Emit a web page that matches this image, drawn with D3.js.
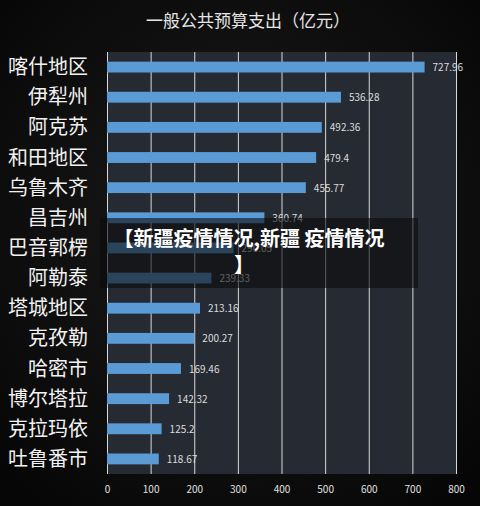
<!DOCTYPE html>
<html><head><meta charset="utf-8">
<script src="https://cdn.jsdelivr.net/npm/d3@7"></script>
<style>body{margin:0;background:#0b0b0b;}svg{display:block;}</style>
</head><body>
<svg id="chart"></svg>
<script>
const regions = ["喀什地区","伊犁州","阿克苏","和田地区","乌鲁木齐","昌吉州","巴音郭楞","阿勒泰","塔城地区","克孜勒","哈密市","博尔塔拉","克拉玛依","吐鲁番市"];
const spending = [727.96,536.28,492.36,479.4,455.77,360.74,290.05,239.33,213.16,200.27,169.46,142.32,125.2,118.67];
const xTicks = [0,100,200,300,400,500,600,700,800];

const width = 480, height = 506;
const margin = {top: 52, right: 24, bottom: 32, left: 107};
const svg = d3.select('#chart').attr('width', width).attr('height', height);
const font = "'Noto Sans CJK SC', 'Noto Sans', sans-serif";

const defs = svg.append('defs');
const bg = defs.append('radialGradient').attr('id', 'bg').attr('cx', '50%').attr('cy', '45%').attr('r', '70%');
bg.append('stop').attr('offset', '0%').attr('stop-color', '#1c1c1c');
bg.append('stop').attr('offset', '100%').attr('stop-color', '#060606');
svg.append('rect').attr('width', width).attr('height', height).attr('fill', 'url(#bg)');

const x = d3.scaleLinear().domain([0, 800]).range([margin.left, width - margin.right]);
const y = d3.scaleBand().domain(regions).range([margin.top, height - margin.bottom]).paddingInner(0.64).paddingOuter(0.32);

svg.append('rect').attr('x', x(0)).attr('y', margin.top)
  .attr('width', x(800) - x(0)).attr('height', height - margin.bottom - margin.top)
  .attr('fill', '#262b33');

svg.append('text').attr('x', 248).attr('y', 27).attr('text-anchor', 'middle')
  .attr('fill', '#e6e6e6').attr('font-size', 17).attr('font-family', font)
  .text('一般公共预算支出（亿元）');

const axis = svg.append('g').attr('transform', `translate(0,${height - margin.bottom})`)
  .call(d3.axisBottom(x).tickValues(xTicks).tickSize(-(height - margin.bottom - margin.top)).tickPadding(12));
axis.select('.domain').remove();
axis.selectAll('line').attr('stroke', '#d8d8d8').attr('stroke-width', 1);
axis.selectAll('text').attr('fill', '#e0e0e0').attr('font-size', 10).attr('font-family', font);

svg.selectAll('.bar').data(regions).enter().append('rect')
  .attr('x', x(0)).attr('y', d => y(d))
  .attr('width', (d, i) => x(spending[i]) - x(0)).attr('height', y.bandwidth())
  .attr('fill', '#5b9bd5');

svg.selectAll('.val').data(regions).enter().append('text')
  .attr('x', (d, i) => x(spending[i]) + 8).attr('y', d => y(d) + y.bandwidth() / 2 + 4)
  .attr('fill', '#dcdcdc').attr('font-size', 10).attr('font-family', font)
  .text((d, i) => spending[i]);

svg.selectAll('.lab').data(regions).enter().append('text')
  .attr('x', 88).attr('y', d => y(d) + y.bandwidth() / 2 + 7)
  .attr('text-anchor', 'end').attr('fill', '#f2f2f2').attr('font-size', 20).attr('font-family', font)
  .text(d => d);

// overlay caption
svg.append('rect').attr('x', 100).attr('y', 218).attr('width', 318).attr('height', 70)
  .attr('fill', 'rgba(10,10,12,0.6)');
const cap = svg.append('text').attr('text-anchor', 'middle').attr('fill', '#ffffff')
  .attr('font-size', 20).attr('font-weight', 'bold').attr('font-family', font);
cap.append('tspan').attr('x', 249).attr('y', 246).text('【新疆疫情情况,新疆 疫情情况');
cap.append('tspan').attr('x', 244).attr('y', 272).text('】');
</script>
</body></html>
